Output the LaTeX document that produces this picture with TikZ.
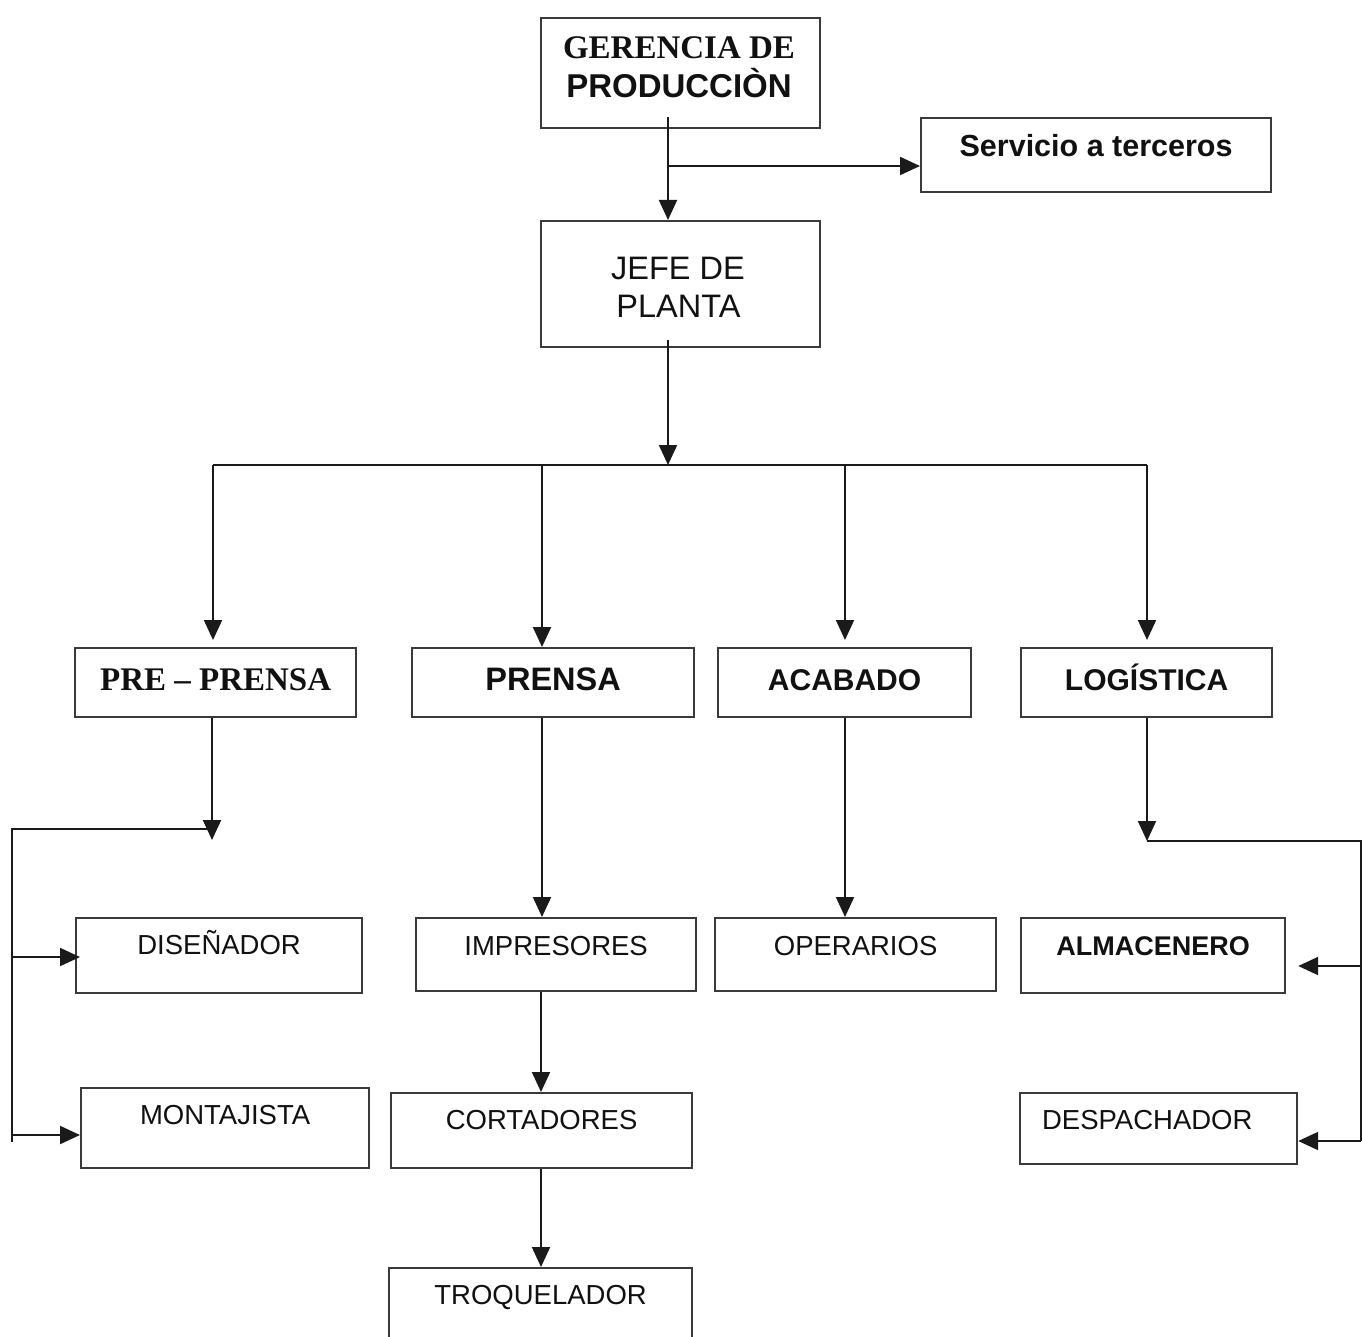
\documentclass[tikz,border=0pt]{standalone}
\usepackage{fontspec}
\setmainfont{Liberation Sans}
\newfontfamily\serifbf{Liberation Serif}
\usetikzlibrary{arrows.meta}
\definecolor{linegray}{HTML}{1A1A1A}
\definecolor{boxgray}{HTML}{3A3A3A}
\definecolor{inkblack}{HTML}{111111}

\begin{document}
\begin{tikzpicture}[x=1pt,y=-1pt,
  box/.style={draw=boxgray, line width=2.2pt, inner sep=0pt, anchor=north west,
              text=inkblack},
  conn/.style={draw=linegray, line width=2pt},
  arr/.style={conn, -{Triangle[length=20pt,width=18pt]}},
  headsans/.style={font=\fontsize{33}{40}\selectfont\bfseries},
  headserif/.style={font=\serifbf\fontsize{33}{40}\selectfont\bfseries},
  plainbig/.style={font=\fontsize{32.5}{39}\selectfont},
  deptfont/.style={font=\fontsize{30}{36}\selectfont\bfseries},
  stafffont/.style={font=\fontsize{27.5}{33}\selectfont},
  staffbold/.style={font=\fontsize{27}{33}\selectfont\bfseries},
  label/.style={anchor=base, inner sep=0pt, text=inkblack},
]
\path[use as bounding box, fill=white] (0,0) rectangle (1362,1337);

% top management
\node[box, minimum width=279pt, minimum height=110pt] (ger) at (540,17) {};
\node[label, headserif] (gerA) at (679,59) {GERENCIA DE};
\node[label, headsans] (gerB) at (679,98) {PRODUCCIÒN};

\node[box, font=\fontsize{30.5}{36}\selectfont\bfseries,
      minimum width=350pt, text height=38pt, text depth=36pt] (srv) at (920,117)
      {Servicio a terceros};

\node[box, minimum width=279pt, minimum height=126pt] (jefe) at (540,220) {};
\node[label, plainbig] (jefeA) at (678,280) {JEFE DE};
\node[label, plainbig] (jefeB) at (678.5,318) {PLANTA};

% departments
\node[box, headserif, minimum width=281pt, text height=42pt, text depth=27pt] (pre) at (74,647) {PRE – PRENSA};
\node[box, font=\fontsize{32.5}{39}\selectfont\bfseries, minimum width=282pt, text height=42pt, text depth=27pt] (prensa) at (411,647) {PRENSA};
\node[box, deptfont, minimum width=253pt, text height=42pt, text depth=27pt] (acab) at (717,647) {ACABADO};
\node[box, deptfont, minimum width=251pt, text height=42pt, text depth=27pt] (log) at (1020,647) {LOGÍSTICA};

% staff
\node[box, stafffont, minimum width=286pt, text height=36pt, text depth=39pt] (dis) at (75,917) {DISEÑADOR};
\node[box, stafffont, minimum width=288pt, text height=36pt, text depth=44pt] (mon) at (80,1087) {MONTAJISTA};
\node[box, stafffont, minimum width=280pt, text height=37pt, text depth=36pt] (imp) at (415,917) {IMPRESORES};
\node[box, stafffont, minimum width=281pt, text height=37pt, text depth=36pt] (ope) at (714,917) {OPERARIOS};
\node[box, staffbold, minimum width=264pt, text height=37pt, text depth=38pt] (alm) at (1020,917) {ALMACENERO};
\node[box, stafffont, minimum width=301pt, text height=36pt, text depth=39pt] (cor) at (390,1092) {CORTADORES};
\node[box, stafffont, minimum width=303pt, text height=36pt, text depth=54pt] (tro) at (388,1267) {TROQUELADOR};
\node[box, stafffont, inner xsep=22pt, text width=233pt, align=left, text height=36pt, text depth=35pt] (des) at (1019,1092) {DESPACHADOR};

% connector guide points
\coordinate (trunk) at (668,0);
\coordinate (srvJ) at (668,166);
\coordinate (hub) at (668,465);
\coordinate (busL) at (213,465);
\coordinate (busR) at (1147,465);
\coordinate (colB) at (542,465);
\coordinate (colC) at (845,465);
\coordinate (colB2) at (541,0);
\coordinate (preJ) at (212,829);
\coordinate (leftTop) at (12,829);
\coordinate (leftBot) at (12,1142);
\coordinate (disJ) at (12,957);
\coordinate (monJ) at (12,1135);
\coordinate (logJ) at (1147,841);
\coordinate (rightTop) at (1361,841);
\coordinate (rightBot) at (1361,1141);
\coordinate (almJ) at (1361,966);
\coordinate (desJ) at (1361,1141);

% management chain
\draw[arr] ([yshift=12pt]ger.south -| trunk) -- (jefe.north -| trunk);
\draw[arr] (srvJ) -- (srv.west |- srvJ);
\draw[arr] ([yshift=8pt]jefe.south -| trunk) -- (hub);
\draw[conn] (busL) -- (busR);

% drops to departments
\draw[arr] (busL) -- ([yshift=7pt]pre.north -| busL);
\draw[arr] (colB) -- (prensa.north -| colB);
\draw[arr] (colC) -- ([yshift=7pt]acab.north -| colC);
\draw[arr] (busR) -- ([yshift=7pt]log.north -| busR);

% pre-press branch
\draw[arr] (pre.south -| preJ) -- ([yshift=-11pt]preJ);
\draw[conn] (preJ) -- (leftTop) -- (leftBot);
\draw[arr] (disJ) -- ([xshift=5pt]dis.west |- disJ);
\draw[arr] (monJ) -- (mon.west |- monJ);

% press chain
\draw[arr] (prensa.south -| colB) -- (imp.north -| colB);
\draw[arr] (imp.south -| colB2) -- (cor.north -| colB2);
\draw[arr] (cor.south -| colB2) -- (tro.north -| colB2);

% finishing
\draw[arr] (acab.south -| colC) -- (ope.north -| colC);

% logistics branch
\draw[arr] (log.south -| logJ) -- (logJ);
\draw[conn] (logJ) -- (rightTop) -- (rightBot);
\draw[arr] (almJ) -- ([xshift=12pt]alm.east |- almJ);
\draw[arr] (desJ) -- (des.east |- desJ);
\end{tikzpicture}
\end{document}
